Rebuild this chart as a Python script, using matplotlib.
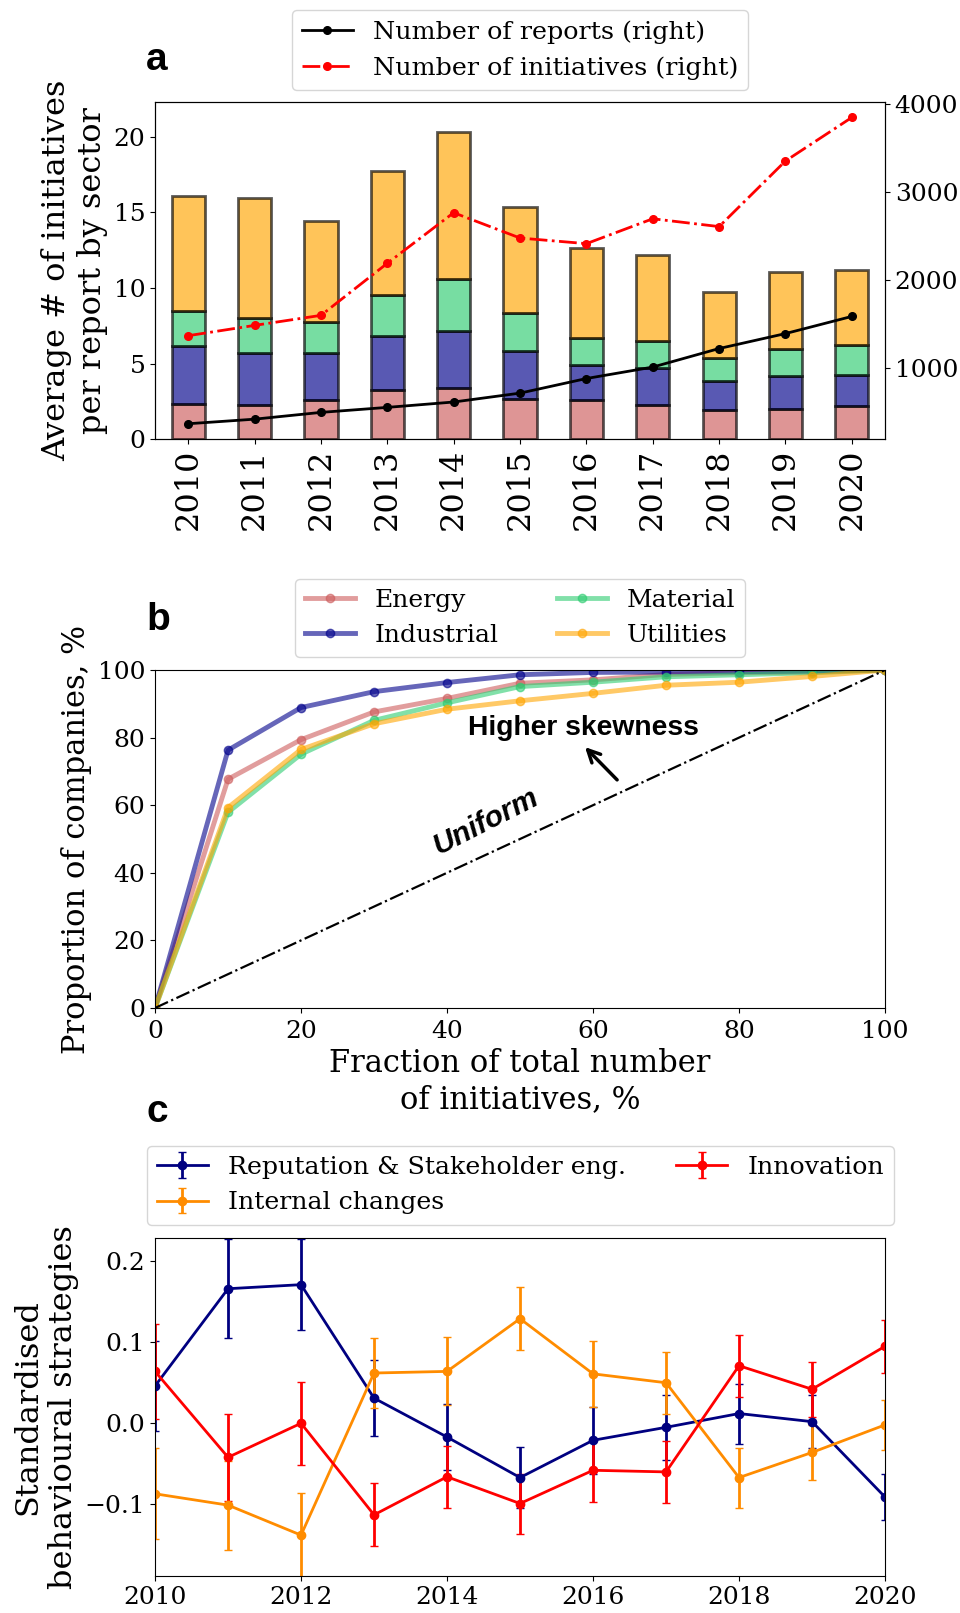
import numpy as np
import matplotlib
matplotlib.use("Agg")
import matplotlib.pyplot as plt

plt.rcParams['font.family'] = 'DejaVu Serif'

# ---- panel a data ----
years = [2010, 2011, 2012, 2013, 2014, 2015, 2016, 2017, 2018, 2019, 2020]
energy = [2.31, 2.24, 2.60, 3.26, 3.38, 2.67, 2.60, 2.27, 1.94, 2.00, 2.20]
industrial = [3.88, 3.43, 3.07, 3.56, 3.77, 3.16, 2.29, 2.45, 1.91, 2.18, 2.05]
material = [2.29, 2.36, 2.05, 2.74, 3.43, 2.48, 1.79, 1.77, 1.51, 1.77, 1.96]
utilities = [7.60, 7.93, 6.73, 8.20, 9.73, 7.04, 5.95, 5.69, 4.37, 5.08, 5.01]
n_reports = [364, 416, 493, 550, 611, 712, 878, 1008, 1219, 1389, 1584]
n_initiatives = [1365, 1482, 1596, 2188, 2763, 2475, 2411, 2694, 2605, 3351, 3846]

# ---- panel b data ----
frac = [0, 10, 20, 30, 40, 50, 60, 70, 80, 90, 100]
lorenz_energy = [0, 67.7, 79.4, 87.6, 91.6, 96.1, 97.1, 98.7, 99.2, 99.4, 100]
lorenz_industrial = [0, 76.3, 88.9, 93.6, 96.3, 98.6, 99.3, 99.4, 99.5, 99.7, 100]
lorenz_material = [0, 57.9, 75.1, 85.1, 90.3, 95.1, 96.4, 98.0, 98.6, 99.2, 100]
lorenz_utilities = [0, 59.3, 76.5, 84.1, 88.4, 90.9, 93.1, 95.5, 96.4, 98.1, 100]

# ---- panel c data ----
reputation = [0.046, 0.166, 0.171, 0.031, -0.017, -0.067, -0.021, -0.005, 0.012, 0.002, -0.091]
reputation_err = [0.056, 0.061, 0.056, 0.047, 0.041, 0.038, 0.041, 0.040, 0.037, 0.033, 0.028]
internal = [-0.087, -0.101, -0.138, 0.062, 0.064, 0.129, 0.061, 0.050, -0.067, -0.036, -0.002]
internal_err = [0.056, 0.055, 0.052, 0.043, 0.042, 0.039, 0.041, 0.038, 0.037, 0.034, 0.031]
innovation = [0.064, -0.042, 0.000, -0.113, -0.066, -0.099, -0.058, -0.060, 0.071, 0.042, 0.095]
innovation_err = [0.059, 0.054, 0.051, 0.039, 0.038, 0.037, 0.039, 0.038, 0.038, 0.034, 0.033]

sector_colors = ['indianred', 'darkblue', '#2ecc71', 'orange']
sector_names = ['Energy', 'Industrial', 'Material', 'Utilities']

fig = plt.figure(figsize=(9.6, 16.13), dpi=100)

# ================= a =================
ax = fig.add_axes([0.1615, 0.7278, 0.7604, 0.2089])
x = np.arange(len(years))
bottom = np.zeros(len(years))
for vals, c in zip([energy, industrial, material, utilities], sector_colors):
    ax.bar(x, vals, 0.5, bottom=bottom, color=c, alpha=0.65,
           edgecolor='black', linewidth=2)
    bottom += np.array(vals)
ax.set_xlim(-0.5, 10.5)
ax.set_ylim(0, 22.3)
ax.set_xticks(x)
ax.set_xticklabels([str(y) for y in years], rotation=90, fontsize=23)
ax.tick_params(axis='y', labelsize=18)
ax.set_ylabel('Average # of initiatives\nper report by sector', fontsize=23)

ax2 = ax.twinx()
l1, = ax2.plot(x, n_reports, color='black', marker='.', ms=11, lw=2,
               label='Number of reports (right)')
l2, = ax2.plot(x, n_initiatives, color='red', marker='.', ms=11, lw=2,
               ls='-.', label='Number of initiatives (right)')
ax2.set_yticks([1000, 2000, 3000, 4000])
ax2.tick_params(axis='y', labelsize=18)
ax2.legend(handles=[l1, l2], loc='upper center', fontsize=18.3,
           labelspacing=0.5, borderaxespad=0,
           bbox_to_anchor=(0.5417, 0.9938), bbox_transform=fig.transFigure)
fig.text(146 / 960, 1 - 70 / 1613, 'a', fontsize=28, fontweight='bold',
         family='Liberation Sans')

# ================= b =================
bx = fig.add_axes([0.1615, 0.3751, 0.7604, 0.2095])
for vals, c, name in zip([lorenz_energy, lorenz_industrial, lorenz_material, lorenz_utilities],
                         sector_colors, sector_names):
    bx.plot(frac, vals, color=c, alpha=0.6, lw=3.5, marker='o', ms=6, label=name)
bx.plot([0, 100], [0, 100], color='black', ls='-.', lw=1.6)
bx.set_xlim(0, 100)
bx.set_ylim(0, 100)
bx.set_xticks([0, 20, 40, 60, 80, 100])
bx.set_yticks([0, 20, 40, 60, 80, 100])
bx.tick_params(labelsize=18)
bx.tick_params(axis='x', pad=5)
bx.set_xlabel('Fraction of total number\nof initiatives, %', fontsize=22)
bx.set_ylabel('Proportion of companies, %', fontsize=22)
bx.text(58.7, 82.8, 'Higher skewness', fontsize=20.3, fontweight='bold',
        family='Liberation Sans', ha='center', va='center')
bx.annotate('', xy=(58.9, 77.2), xytext=(63.3, 67.5),
            arrowprops=dict(arrowstyle='->', lw=2.5, color='black',
                            shrinkA=0, shrinkB=0, mutation_scale=22))
bx.text(45.3, 55.0, 'Uniform', fontsize=21.5, fontweight='bold', style='italic',
        family='Liberation Sans', ha='center', va='center', rotation=27)
bx.legend(loc='upper center', ncol=2, fontsize=18, columnspacing=2.3,
          borderaxespad=0,
          bbox_to_anchor=(0.5417, 0.6413), bbox_transform=fig.transFigure)
fig.text(146 / 960, 1 - 630 / 1613, 'b', fontsize=28, fontweight='bold',
         family='Liberation Sans')

# ================= c =================
cx = fig.add_axes([0.1615, 0.0229, 0.7604, 0.2095])
cx.errorbar(years, reputation, yerr=reputation_err, color='navy', marker='o',
            ms=6, lw=2, capsize=3, label='Reputation & Stakeholder eng.')
cx.errorbar(years, internal, yerr=internal_err, color='darkorange', marker='o',
            ms=6, lw=2, capsize=3, label='Internal changes')
cx.errorbar(years, innovation, yerr=innovation_err, color='red', marker='o',
            ms=6, lw=2, capsize=3, label='Innovation')
cx.set_xlim(2010, 2020)
cx.set_ylim(-0.1885, 0.2284)
cx.set_xticks([2010, 2012, 2014, 2016, 2018, 2020])
cx.set_yticks([-0.1, 0.0, 0.1, 0.2])
cx.tick_params(labelsize=18)
cx.set_ylabel('Standardised\nbehavioural strategies', fontsize=23)
cx.legend(loc='upper center', ncol=2, fontsize=18.2, columnspacing=2.0,
          borderaxespad=0,
          bbox_to_anchor=(0.5422, 0.2897), bbox_transform=fig.transFigure)
fig.text(146 / 960, 1 - 1122 / 1613, 'c', fontsize=28, fontweight='bold',
         family='Liberation Sans')

fig.savefig('out.png', dpi=100)
